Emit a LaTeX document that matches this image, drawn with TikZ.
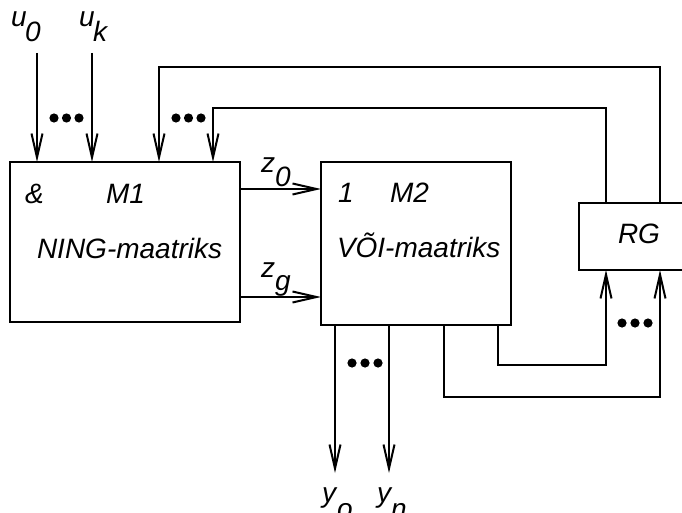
\documentclass[tikz,border=0pt]{standalone}
\usepackage{fontspec}
\setmainfont{Liberation Sans}
\usetikzlibrary{arrows.meta}
\begin{document}
\begin{tikzpicture}[x=1pt,y=-1pt,
  every node/.style={inner sep=0pt,outer sep=0pt},
  box/.style={draw,line width=2pt,anchor=north west,rectangle},
  wire/.style={line width=2pt},
  arr/.style={wire,-{Straight Barb[length=24pt,width=11pt,line width=2pt]}},
  lbl/.style={anchor=base west,font=\fontsize{28}{32}\selectfont\itshape},
  sub/.style={anchor=base west,font=\fontsize{28}{32}\selectfont\itshape},
  dotc/.style={fill=black}]
\useasboundingbox (0,0) rectangle (682,513);
% boxes
\node[box,minimum width=230pt,minimum height=160pt] (m1) at (10,162) {};
\node[box,minimum width=190pt,minimum height=163pt] (m2) at (321,162) {};
\node[box,minimum width=111pt,minimum height=67pt] (rg) at (579,203) {};
% texts
\node[lbl] (amp) at (25,203) {\&};
\node[lbl] (m1t) at (106,203) {M1};
\node[lbl] (ning) at (37,258) {NING-maatriks};
\node[lbl] (one) at (338,202) {1};
\node[lbl] (m2t) at (390,202) {M2};
\node[lbl] (voi) at (337,257) {VÕI-maatriks};
\node[lbl] (rgt) at (618,243) {RG};
% input labels
\node[lbl] (u0a) at (11,27) {u};
\node[sub] (u0b) at (25,42) {0};
\node[lbl] (uka) at (79,27) {u};
\node[sub] (ukb) at (93,42) {k};
\node[lbl] (z0a) at (261,172) {z};
\node[sub] (z0b) at (275,186) {0};
\node[lbl] (zga) at (261,277) {z};
\node[sub] (zgb) at (275,290) {g};
\node[lbl] (y0a) at (322,502) {y};
\node[sub] (y0b) at (337,518) {o};
\node[lbl] (yna) at (377,502) {y};
\node[sub] (ynb) at (391,518) {n};
% coordinates
\coordinate (u0s) at (37,53);
\coordinate (uks) at (92,53);
\coordinate (y0e) at (335,473);
\coordinate (yne) at (389,473);
% inputs
\draw[arr] (u0s) -- (u0s |- m1.north);
\draw[arr] (uks) -- (uks |- m1.north);
% z connections
\draw[arr] (m1.east |- 0,189) -- (m2.west |- 0,189);
\draw[arr] (m1.east |- 0,297) -- (m2.west |- 0,297);
% feedback from RG to M1
\draw[arr] (rg.north -| 660,0) |- (159,67) -- (159,67 |- m1.north);
\draw[arr] (rg.north -| 606,0) |- (213,108) -- (213,108 |- m1.north);
% from M2 to RG
\draw[arr] (m2.south -| 498,0) |- (606,365) -- (606,365 |- rg.south);
\draw[arr] (m2.south -| 444,0) |- (660,397) -- (660,397 |- rg.south);
% outputs
\draw[arr] (y0e |- m2.south) -- (y0e);
\draw[arr] (yne |- m2.south) -- (yne);
% dots
\foreach \x in {54,66.5,79} \fill[dotc] (\x,118) circle (4.6pt);
\foreach \x in {176,188.5,201} \fill[dotc] (\x,118) circle (4.6pt);
\foreach \x in {352,365,378} \fill[dotc] (\x,363) circle (4.6pt);
\foreach \x in {622,635,648} \fill[dotc] (\x,323) circle (4.6pt);
\end{tikzpicture}
\end{document}
